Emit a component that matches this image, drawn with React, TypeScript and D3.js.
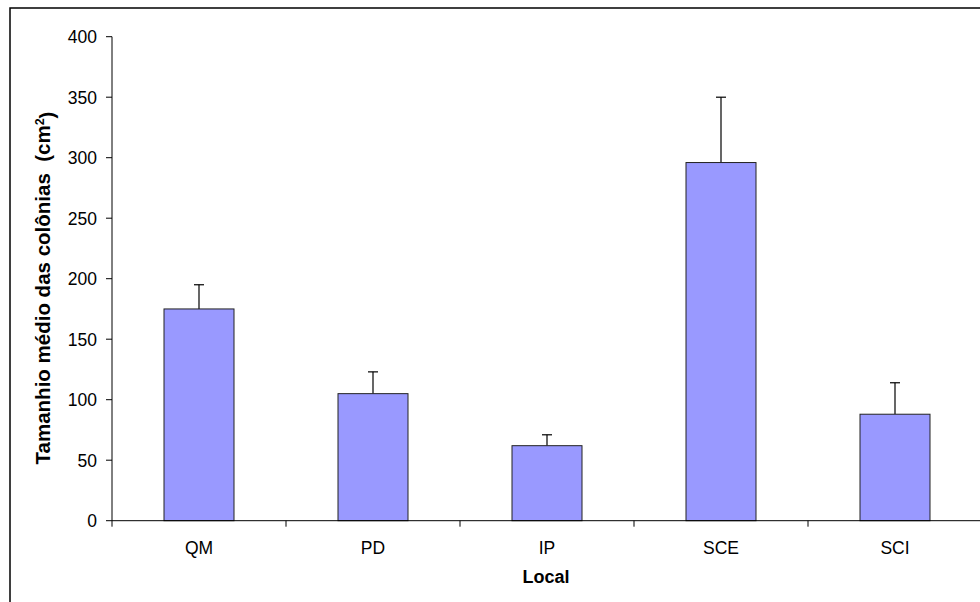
import React from "react";
import * as d3 from "d3";

const categories = ["QM", "PD", "IP", "SCE", "SCI"];
const means = [175, 105, 62, 296, 88];
const upperErrors = [20, 18, 9, 54, 26];
const yTicks = [0, 50, 100, 150, 200, 250, 300, 350, 400];

const W = 980;
const H = 602;
const left = 112;
const right = 982;
const top = 36.7;
const bottom = 520.7;

export default function App() {
  const xb = d3.scaleBand<string>().domain(categories).range([left, right]);
  const y = d3.scaleLinear().domain([0, 400]).range([bottom, top]);
  const font = "'Liberation Sans', Arial, sans-serif";
  return (
    <svg width={W} height={H} style={{ position: "absolute", left: 0, top: 0, background: "#fff" }} fontFamily={font}>
      <rect x={10} y={8} width={W + 20} height={H + 20} fill="#fff" stroke="#000" strokeWidth={1.5} />
      {categories.map((c, i) => {
        const cx = xb(c)! + xb.bandwidth() / 2;
        const bx = cx - 35;
        const yt = y(means[i] + upperErrors[i]);
        return (
          <g key={c}>
            <line x1={cx} x2={cx} y1={y(means[i])} y2={yt} stroke="#000" strokeWidth={1.2} />
            <line x1={cx - 5} x2={cx + 5} y1={yt} y2={yt} stroke="#000" strokeWidth={1.2} />
            <rect x={bx} y={y(means[i])} width={70} height={bottom - y(means[i])} fill="#9999FF" stroke="#222" strokeWidth={1} />
          </g>
        );
      })}
      <line x1={left} x2={left} y1={top} y2={bottom} stroke="#000" strokeWidth={1} />
      {yTicks.map((t) => (
        <g key={t}>
          <line x1={left - 6} x2={left} y1={y(t)} y2={y(t)} stroke="#000" strokeWidth={1} />
          <text x={left - 15} y={y(t)} dy="0.36em" textAnchor="end" fontSize={17.5} fill="#000">
            {t}
          </text>
        </g>
      ))}
      <line x1={left} x2={right} y1={bottom} y2={bottom} stroke="#000" strokeWidth={1} />
      {categories.map((c) => (
        <g key={c}>
          <line x1={xb(c)!} x2={xb(c)!} y1={bottom} y2={bottom + 6} stroke="#000" strokeWidth={1} />
          <text x={xb(c)! + xb.bandwidth() / 2} y={548} dy="0.36em" textAnchor="middle" fontSize={17.5} fill="#000">
            {c}
          </text>
        </g>
      ))}
      <text x={546} y={577} dy="0.36em" textAnchor="middle" fontSize={18} fontWeight="bold" fill="#000">
        Local
      </text>
      <text transform={`translate(43, 288) rotate(-90)`} textAnchor="middle" dy="0.36em" fontSize={20.5} fontWeight="bold" fill="#000" style={{ whiteSpace: "pre" }}>
        {"Tamanhio médio das colônias  (cm"}
        <tspan dy="-0.5em" fontSize={12.5}>2</tspan>
        <tspan dy="0.5em">)</tspan>
      </text>
    </svg>
  );
}
